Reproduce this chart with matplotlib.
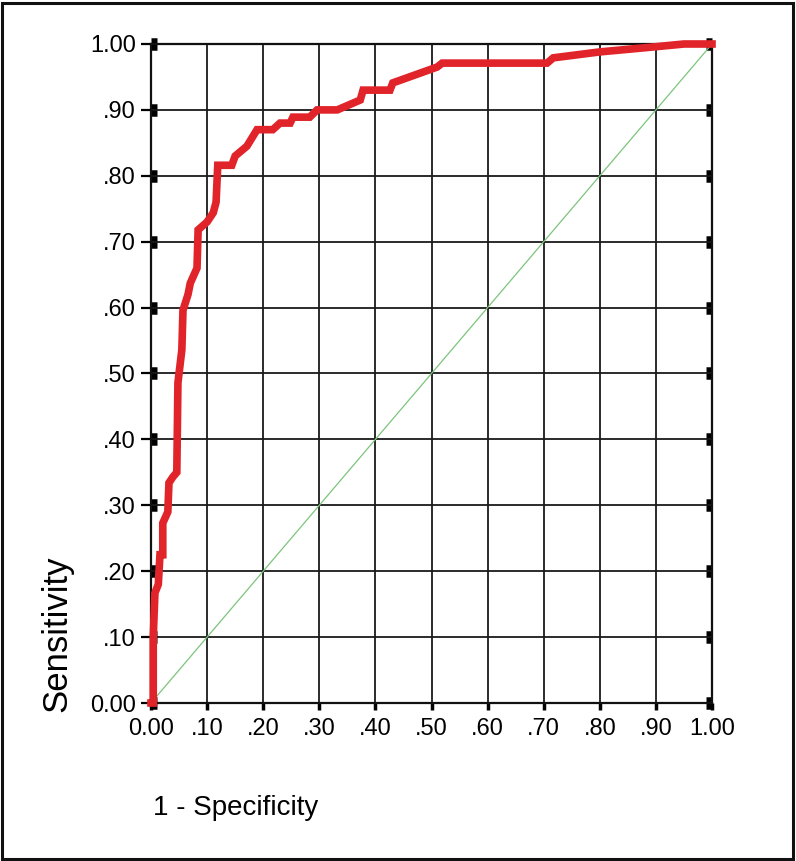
import matplotlib
matplotlib.use("Agg")
import matplotlib.pyplot as plt
import matplotlib.patches as mpatches

plt.rcParams["font.family"] = ["Liberation Sans", "DejaVu Sans"]

# ── ROC curve ─────────────────────────────────────────────────────────────────
fpr = [0.000, 0.004, 0.004, 0.007, 0.013, 0.016, 0.021, 0.021, 0.030, 0.032,
       0.039, 0.046, 0.048, 0.055, 0.057, 0.066, 0.070, 0.082, 0.084, 0.100,
       0.111, 0.116, 0.119, 0.144, 0.150, 0.171, 0.189, 0.217, 0.230, 0.248,
       0.253, 0.283, 0.296, 0.332, 0.373, 0.378, 0.426, 0.431, 0.510, 0.519,
       0.706, 0.717, 0.800, 0.889, 0.950, 1.000]
tpr = [0.000, 0.000, 0.100, 0.167, 0.180, 0.225, 0.225, 0.273, 0.290, 0.334,
       0.343, 0.350, 0.486, 0.536, 0.596, 0.620, 0.637, 0.660, 0.718, 0.730,
       0.744, 0.760, 0.816, 0.816, 0.830, 0.845, 0.870, 0.870, 0.880, 0.880,
       0.889, 0.889, 0.900, 0.900, 0.915, 0.930, 0.930, 0.941, 0.965, 0.971,
       0.971, 0.979, 0.988, 0.995, 1.000, 1.000]

ref_line = [0.0, 1.0]
ticks = [0.0, 0.1, 0.2, 0.3, 0.4, 0.5, 0.6, 0.7, 0.8, 0.9, 1.0]
tick_labels = ["0.00", ".10", ".20", ".30", ".40", ".50",
               ".60", ".70", ".80", ".90", "1.00"]

W, H = 796, 861
fig = plt.figure(figsize=(W / 100, H / 100), dpi=100)
ax = fig.add_axes([151 / W, 1 - 703 / H, (712 - 151) / W, (703 - 44) / H])

ax.plot(ref_line, ref_line, color="#7cc47c", linewidth=0.9, zorder=3)
ax.plot(fpr, tpr, color="#e0242a", linewidth=5.5, solid_joinstyle="miter",
        zorder=4, clip_on=False)

ax.set_xlim(0, 1)
ax.set_ylim(0, 1)
ax.set_xticks(ticks)
ax.set_xticklabels(tick_labels)
ax.set_yticks(ticks)
ax.set_yticklabels(tick_labels)
ax.grid(True, color="#1a1a1a", linewidth=1.3)
ax.set_axisbelow(True)
for s in ax.spines.values():
    s.set_linewidth(1.6)
    s.set_color("#111111")

ax.tick_params(axis="x", direction="out", length=5, width=2.5,
               labelsize=17, pad=6)
ax.tick_params(axis="y", direction="out", length=7, width=1.6,
               labelsize=17, pad=4)

# thick block ticks on both vertical spines
for side in ("left", "right"):
    sec = ax.secondary_yaxis(side)
    sec.set_yticks(ticks)
    sec.tick_params(direction="in", length=4, width=9, labelleft=False,
                    labelright=False, color="black")
    sec.spines[side].set_visible(False)

fig.text(57 / W, 1 - 712 / H, "Sensitivity", rotation=90, fontsize=25,
         ha="center", va="bottom")
fig.text(153 / W, 1 - 808 / H, "1 - Specificity", fontsize=20,
         ha="left", va="center")

# frame around the whole picture
fig.patches.append(mpatches.Rectangle((2 / W, 2 / H), 1 - 5 / W, 1 - 5 / H,
                                      transform=fig.transFigure, fill=False,
                                      edgecolor="#111111", linewidth=2.2))

fig.savefig("out.png", dpi=100)
